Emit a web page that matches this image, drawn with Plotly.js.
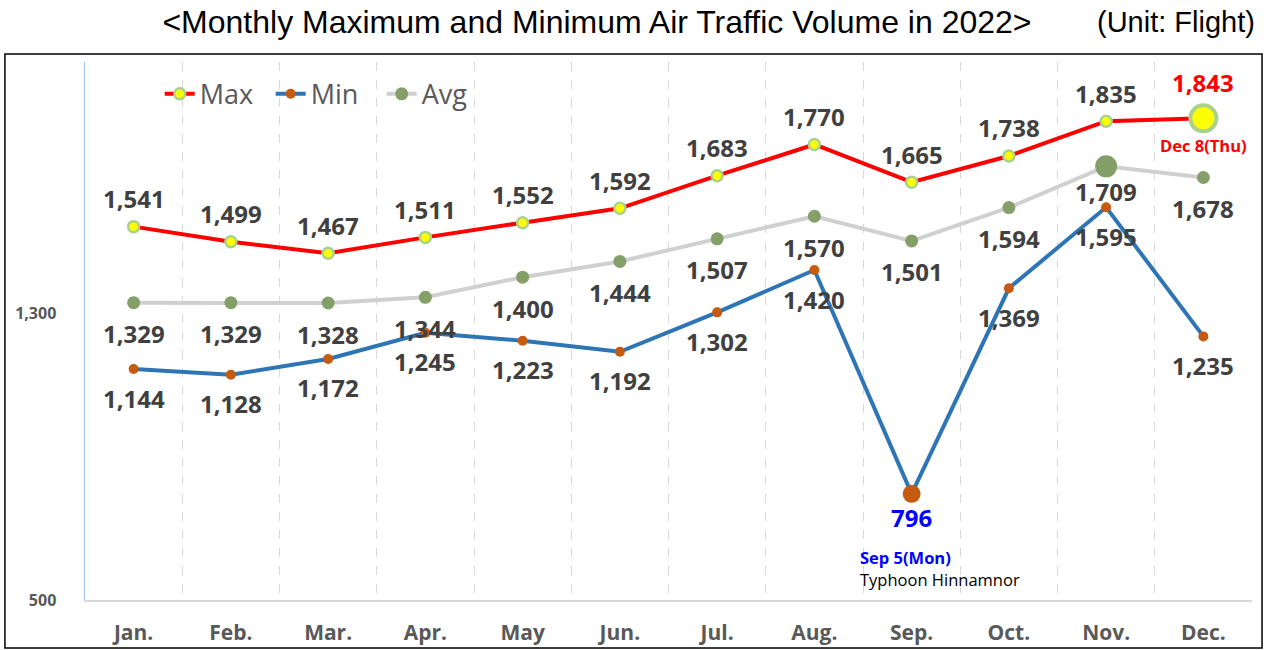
<!DOCTYPE html>
<html>
<head>
<meta charset="utf-8">
<script src="https://cdn.plot.ly/plotly-3.0.1.min.js"></script>
<style>html,body{margin:0;padding:0;background:#fff;}#chart{width:1264px;height:650px;}</style>
</head>
<body>
<div id="chart"></div>
<script>
const months = ["Jan.","Feb.","Mar.","Apr.","May","Jun.","Jul.","Aug.","Sep.","Oct.","Nov.","Dec."];
const maxVals = [1541,1499,1467,1511,1552,1592,1683,1770,1665,1738,1835,1843];
const minVals = [1144,1128,1172,1245,1223,1192,1302,1420,796,1369,1595,1235];
const avgVals = [1329,1329,1328,1344,1400,1444,1507,1570,1501,1594,1709,1678];
const yTicks = [500,1300];
const yTickText = ["500","1,300"];
const maxPeakIdx = 11, minLowIdx = 8, avgPeakIdx = 10;
const maxNote = "Dec 8(Thu)";
const minNote = "Sep 5(Mon)";
const minNote2 = "Typhoon Hinnamnor";

const xs = months.map((_, i) => i);
const fmt = v => v.toLocaleString("en-US");
const FONT = "Open Sans, Noto Sans, sans-serif";

const traces = [
  {x: xs, y: avgVals, name: "Avg", mode: "lines+markers", legendrank: 3,
   line: {color: "#D0D0D0", width: 4},
   marker: {color: "#84A068", size: 13}},
  {x: xs, y: minVals, name: "Min", mode: "lines+markers", legendrank: 2,
   line: {color: "#2E75B6", width: 4},
   marker: {color: "#C55A11", size: 10}},
  {x: xs, y: maxVals, name: "Max", mode: "lines+markers", legendrank: 1,
   line: {color: "#FF0000", width: 4},
   marker: {color: "#FFFF00", size: 11, line: {color: "#A9D18E", width: 2.5}}},
  {x: [avgPeakIdx], y: [avgVals[avgPeakIdx]], mode: "markers", showlegend: false,
   marker: {color: "#84A068", size: 22}},
  {x: [minLowIdx], y: [minVals[minLowIdx]], mode: "markers", showlegend: false,
   marker: {color: "#C55A11", size: 18}},
  {x: [maxPeakIdx], y: [maxVals[maxPeakIdx]], mode: "markers", showlegend: false,
   marker: {color: "#FFFF00", size: 26, line: {color: "#A9D18E", width: 4}}}
];

const labelFont = {family: FONT, size: 24, color: "#404040", weight: "bold"};
const ann = [];
maxVals.forEach((v, i) => {
  if (i === maxPeakIdx) {
    ann.push({x: i, y: v, text: fmt(v), showarrow: false, yshift: 36,
      font: {family: FONT, size: 24, color: "#FF0000", weight: "bold"}});
    ann.push({x: i, y: v, text: maxNote, showarrow: false, yshift: -27,
      font: {family: FONT, size: 16.5, color: "#FF0000", weight: "bold"}});
  } else {
    ann.push({x: i, y: v, text: fmt(v), showarrow: false, yshift: 28, font: labelFont});
  }
});
avgVals.forEach((v, i) => {
  const s = (i === avgPeakIdx) ? -25 : -31;
  ann.push({x: i, y: v, text: fmt(v), showarrow: false, yshift: s, font: labelFont});
});
minVals.forEach((v, i) => {
  if (i === minLowIdx) {
    ann.push({x: i, y: v, text: fmt(v), showarrow: false, yshift: -24,
      font: {family: FONT, size: 24, color: "#0000FF", weight: "bold"}});
    ann.push({x: i, y: v, text: minNote, showarrow: false, yshift: -64, xanchor: "left", xshift: -54,
      font: {family: FONT, size: 16.5, color: "#0000FF", weight: "bold"}});
    ann.push({x: i, y: v, text: minNote2, showarrow: false, yshift: -86, xanchor: "left", xshift: -54,
      font: {family: FONT, size: 16.5, color: "#000000"}});
  } else {
    ann.push({x: i, y: v, text: fmt(v), showarrow: false, yshift: -29, font: labelFont});
  }
});
ann.push({xref: "paper", yref: "paper", x: 1.0043, y: 1.0743, xanchor: "right", yanchor: "middle",
  text: "(Unit: Flight)", showarrow: false,
  font: {family: "Liberation Sans, Arial, sans-serif", size: 29, color: "#000"}});

const minorGrid = [];
for (let i = 0; i < months.length; i++) minorGrid.push(i + 0.5);

const layout = {
  width: 1264, height: 650,
  margin: {l: 85, r: 12, t: 62, b: 50},
  paper_bgcolor: "#ffffff", plot_bgcolor: "#ffffff",
  title: {text: "&lt;Monthly Maximum and Minimum Air Traffic Volume in 2022&gt;",
    xref: "container", yref: "container", x: 0.4723, y: 0.966, xanchor: "center", yanchor: "middle",
    font: {family: "Liberation Sans, Arial, sans-serif", size: 32, color: "#000"}},
  showlegend: true,
  legend: {orientation: "h", x: 0.064, y: 0.94, xanchor: "left", yanchor: "middle",
    font: {family: FONT, size: 27, color: "#595959"}, bgcolor: "rgba(0,0,0,0)",
    entrywidth: 66, entrywidthmode: "pixels", tracegroupgap: 0},
  xaxis: {range: [-0.5, 11.5], tickvals: xs, ticktext: months, showgrid: false,
    zeroline: false, showline: true, linecolor: "#D9D9D9", linewidth: 2,
    ticks: "", ticklabelstandoff: 13,
    tickfont: {family: FONT, size: 21, color: "#595959", weight: "bold"},
    minor: {tickvals: minorGrid, showgrid: true, gridcolor: "#D9D9D9", griddash: "dash", gridwidth: 1, ticks: ""}},
  yaxis: {range: [500, 2000], tickvals: yTicks, ticktext: yTickText, showgrid: false,
    zeroline: false, showline: true, linecolor: "#9DC3E6", linewidth: 1.5, ticks: "",
    ticklabelstandoff: 24,
    tickfont: {family: FONT, size: 16, color: "#595959", weight: "bold"}},
  annotations: ann,
  shapes: [{type: "rect", xref: "paper", yref: "paper", x0: -0.0686, x1: 1.0086, y0: -0.0892, y1: 1.0149,
    line: {color: "#000", width: 1.5}, fillcolor: "rgba(0,0,0,0)", layer: "below"}]
};

Plotly.newPlot("chart", traces, layout, {displayModeBar: false, staticPlot: true});
</script>
</body>
</html>
